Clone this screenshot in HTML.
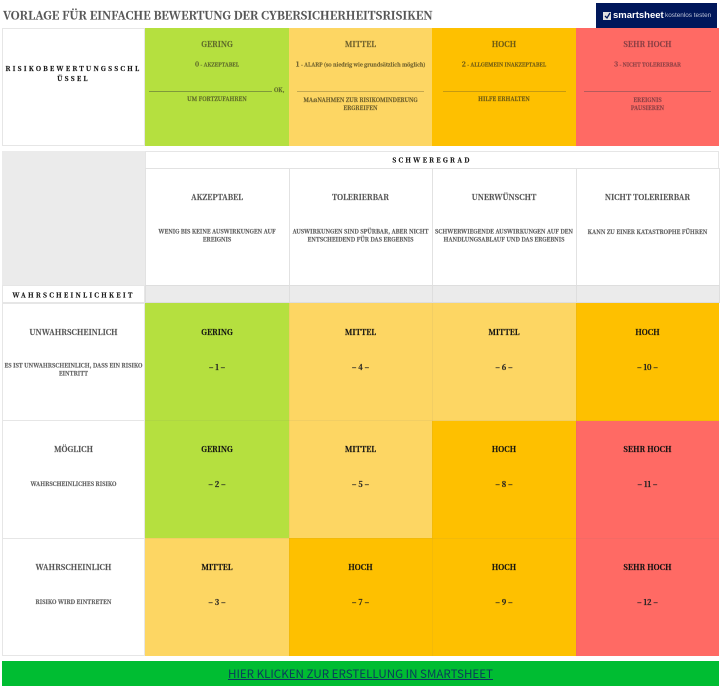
<!DOCTYPE html>
<html lang="de">
<head>
<meta charset="utf-8">
<title>Vorlage für einfache Bewertung der Cybersicherheitsrisiken</title>
<style>
html,body{margin:0;padding:0;background:#fff;}
body{position:relative;width:723px;height:688px;overflow:hidden;font-family:"Noto Serif CJK SC","Liberation Serif",serif;}
.b{position:absolute;box-sizing:border-box;}
.t{position:absolute;text-align:center;white-space:nowrap;transform:translateY(-50%);line-height:1;filter:blur(.25px);-webkit-text-stroke:.2px currentColor;}
.g{background:#b5e03f}.m{background:#fdd663}.h{background:#fec000}.s{background:#ff6a64}.w{background:#fff}.e{background:#ebebeb}
.line{position:absolute;height:1px;}
.hd{font-size:7.6px;font-weight:bold;color:#555;}
.sm{font-size:5.65px;font-weight:bold;color:#5c5c5c;}
.ks{font-size:5.6px;font-weight:bold;}
.kr{font-size:5.2px;font-weight:bold;}
.kr span{font-size:7px;}
.cell{font-size:7.6px;font-weight:bold;color:#111;}
.num{font-size:7.6px;font-weight:bold;color:#222;}
.sp{font-size:6.6px;font-weight:bold;color:#111;letter-spacing:2.2px;}
.o1{color:#5e6a2a}.o2{color:#6d5f2c}.o3{color:#6d5a14}.o4{color:#8a3f44}
</style>
</head>
<body>

<div class="t" style="left:3px;top:15.5px;font-size:11.3px;font-weight:bold;color:#555;text-align:left;">VORLAGE FÜR EINFACHE BEWERTUNG DER CYBERSICHERHEITSRISIKEN</div>

<div class="b" style="left:596px;top:3px;width:121px;height:25px;background:#00175a;">
  <svg width="8" height="8" style="position:absolute;left:7px;top:9px"><rect width="8" height="8" fill="#e0e0e0"/><path d="M2 4l2 2 3-5" fill="none" stroke="#00175a" stroke-width="1.3"/></svg>
  <span style="position:absolute;left:17px;top:5px;color:#fff;font:bold 9.5px 'Liberation Sans',sans-serif;line-height:16px;filter:blur(.25px);">smartsheet</span>
  <span style="position:absolute;left:69px;top:7px;color:#bcc4d8;font:6.4px 'Liberation Sans',sans-serif;line-height:12px;white-space:nowrap;">kostenlos testen</span>
</div>

<!-- Key table -->
<div class="b w" style="left:2px;top:28px;width:143px;height:118px;border:1px solid #e6e6e6;"></div>
<div class="t sp" style="left:2px;width:143px;top:73px;line-height:10px;">RISIKOBEWERTUNGSSCHL<br>ÜSSEL</div>

<div class="b g" style="left:145px;top:28px;width:144px;height:118px;"></div>
<div class="b m" style="left:289px;top:28px;width:143px;height:118px;"></div>
<div class="b h" style="left:432px;top:28px;width:144px;height:118px;"></div>
<div class="b s" style="left:576px;top:28px;width:143px;height:118px;"></div>

<div class="t hd o1" style="left:145px;width:144px;top:44.5px;">GERING</div>
<div class="t kr o1" style="left:145px;width:144px;top:64.5px;"><span>0</span> - AKZEPTABEL</div>
<div class="line" style="left:149px;top:91px;width:123px;background:#7f9a3a;"></div>
<div class="t ks o1" style="left:274px;top:91px;">OK,</div>
<div class="t ks o1" style="left:145px;width:144px;top:99.5px;">UM FORTZUFAHREN</div>

<div class="t hd o2" style="left:289px;width:143px;top:44.5px;">MITTEL</div>
<div class="t kr o2" style="left:289px;width:143px;top:64.5px;"><span>1</span> - ALARP (so niedrig wie grundsätzlich möglich)</div>
<div class="line" style="left:297px;top:91px;width:127px;background:#c4a850;"></div>
<div class="t ks o2" style="left:289px;width:143px;top:103.5px;line-height:8px;">MAẞNAHMEN ZUR RISIKOMINDERUNG<br>ERGREIFEN</div>

<div class="t hd o3" style="left:432px;width:144px;top:44.5px;">HOCH</div>
<div class="t kr o3" style="left:432px;width:144px;top:64.5px;"><span>2</span> - ALLGEMEIN INAKZEPTABEL</div>
<div class="line" style="left:443px;top:91px;width:123px;background:#c69a10;"></div>
<div class="t ks o3" style="left:432px;width:144px;top:99.5px;">HILFE ERHALTEN</div>

<div class="t hd o4" style="left:576px;width:143px;top:44.5px;">SEHR HOCH</div>
<div class="t kr o4" style="left:576px;width:143px;top:64.5px;"><span>3</span> - NICHT TOLERIERBAR</div>
<div class="line" style="left:584px;top:91px;width:127px;background:#b65a5c;"></div>
<div class="t ks o4" style="left:576px;width:143px;top:103.5px;line-height:8px;">EREIGNIS<br>PAUSIEREN</div>

<!-- Matrix header -->
<div class="b e" style="left:2px;top:151px;width:143px;height:135px;"></div>
<div class="b w" style="left:145px;top:151px;width:574px;height:18px;border:1px solid #e6e6e6;"></div>
<div class="t sp" style="left:145px;width:574px;top:160px;">SCHWEREGRAD</div>

<div class="b w" style="left:145px;top:168px;width:145px;height:118px;border:1px solid #e2e2e2;"></div>
<div class="b w" style="left:289px;top:168px;width:144px;height:118px;border:1px solid #e2e2e2;"></div>
<div class="b w" style="left:432px;top:168px;width:145px;height:118px;border:1px solid #e2e2e2;"></div>
<div class="b w" style="left:576px;top:168px;width:144px;height:118px;border:1px solid #e2e2e2;"></div>

<div class="t hd" style="left:145px;width:144px;top:197.5px;">AKZEPTABEL</div>
<div class="t sm" style="left:145px;width:144px;top:235.5px;line-height:8.4px;">WENIG BIS KEINE AUSWIRKUNGEN AUF<br>EREIGNIS</div>
<div class="t hd" style="left:289px;width:143px;top:197.5px;">TOLERIERBAR</div>
<div class="t sm" style="left:289px;width:143px;top:235.5px;line-height:8.4px;">AUSWIRKUNGEN SIND SPÜRBAR, ABER NICHT<br>ENTSCHEIDEND FÜR DAS ERGEBNIS</div>
<div class="t hd" style="left:432px;width:144px;top:197.5px;">UNERWÜNSCHT</div>
<div class="t sm" style="left:432px;width:144px;top:235.5px;line-height:8.4px;">SCHWERWIEGENDE AUSWIRKUNGEN AUF DEN<br>HANDLUNGSABLAUF UND DAS ERGEBNIS</div>
<div class="t hd" style="left:576px;width:143px;top:197.5px;">NICHT TOLERIERBAR</div>
<div class="t sm" style="left:576px;width:143px;top:231.5px;">KANN ZU EINER KATASTROPHE FÜHREN</div>

<div class="b w" style="left:2px;top:285px;width:143px;height:18px;border:1px solid #e6e6e6;"></div>
<div class="t sp" style="left:2px;width:143px;top:294.5px;">WAHRSCHEINLICHKEIT</div>
<div class="b e" style="left:145px;top:285px;width:145px;height:18px;border:1px solid #dedede;"></div>
<div class="b e" style="left:289px;top:285px;width:144px;height:18px;border:1px solid #dedede;"></div>
<div class="b e" style="left:432px;top:285px;width:145px;height:18px;border:1px solid #dedede;"></div>
<div class="b e" style="left:576px;top:285px;width:144px;height:18px;border:1px solid #dedede;"></div>

<!-- Row labels -->
<div class="b w" style="left:2px;top:303px;width:143px;height:118px;border:1px solid #e6e6e6;"></div>
<div class="t hd" style="left:2px;width:143px;top:332.5px;">UNWAHRSCHEINLICH</div>
<div class="t sm" style="left:2px;width:143px;top:370px;line-height:8.4px;">ES IST UNWAHRSCHEINLICH, DASS EIN RISIKO<br>EINTRITT</div>

<div class="b w" style="left:2px;top:420px;width:143px;height:119px;border:1px solid #e6e6e6;"></div>
<div class="t hd" style="left:2px;width:143px;top:450px;">MÖGLICH</div>
<div class="t sm" style="left:2px;width:143px;top:484px;">WAHRSCHEINLICHES RISIKO</div>

<div class="b w" style="left:2px;top:538px;width:143px;height:118px;border:1px solid #e6e6e6;"></div>
<div class="t hd" style="left:2px;width:143px;top:567.5px;">WAHRSCHEINLICH</div>
<div class="t sm" style="left:2px;width:143px;top:601.5px;">RISIKO WIRD EINTRETEN</div>

<!-- Matrix cells row 1 -->
<div class="b g" style="left:145px;top:303px;width:144px;height:118px;"></div>
<div class="b m" style="left:289px;top:303px;width:143px;height:118px;"></div>
<div class="b m" style="left:432px;top:303px;width:144px;height:118px;"></div>
<div class="b h" style="left:576px;top:303px;width:143px;height:118px;"></div>
<!-- row 2 -->
<div class="b g" style="left:145px;top:421px;width:144px;height:117px;"></div>
<div class="b m" style="left:289px;top:421px;width:143px;height:117px;"></div>
<div class="b h" style="left:432px;top:421px;width:144px;height:117px;"></div>
<div class="b s" style="left:576px;top:421px;width:143px;height:117px;"></div>
<!-- row 3 -->
<div class="b m" style="left:145px;top:538px;width:144px;height:118px;"></div>
<div class="b h" style="left:289px;top:538px;width:143px;height:118px;"></div>
<div class="b h" style="left:432px;top:538px;width:144px;height:118px;"></div>
<div class="b s" style="left:576px;top:538px;width:143px;height:118px;"></div>

<div class="line" style="left:289px;top:303px;width:1px;height:353px;background:rgba(120,120,120,.08);"></div>
<div class="line" style="left:432px;top:303px;width:1px;height:353px;background:rgba(120,120,120,.08);"></div>
<div class="line" style="left:576px;top:303px;width:1px;height:353px;background:rgba(120,120,120,.08);"></div>
<div class="line" style="left:145px;top:420px;width:574px;background:rgba(120,120,120,.08);"></div>
<div class="line" style="left:145px;top:538px;width:574px;background:rgba(120,120,120,.08);"></div>

<div class="t cell" style="left:145px;width:144px;top:332.5px;">GERING</div>
<div class="t num" style="left:145px;width:144px;top:367.5px;">– 1 –</div>
<div class="t cell" style="left:289px;width:143px;top:332.5px;">MITTEL</div>
<div class="t num" style="left:289px;width:143px;top:367.5px;">– 4 –</div>
<div class="t cell" style="left:432px;width:144px;top:332.5px;">MITTEL</div>
<div class="t num" style="left:432px;width:144px;top:367.5px;">– 6 –</div>
<div class="t cell" style="left:576px;width:143px;top:332.5px;">HOCH</div>
<div class="t num" style="left:576px;width:143px;top:367.5px;">– 10 –</div>

<div class="t cell" style="left:145px;width:144px;top:450px;">GERING</div>
<div class="t num" style="left:145px;width:144px;top:485px;">– 2 –</div>
<div class="t cell" style="left:289px;width:143px;top:450px;">MITTEL</div>
<div class="t num" style="left:289px;width:143px;top:485px;">– 5 –</div>
<div class="t cell" style="left:432px;width:144px;top:450px;">HOCH</div>
<div class="t num" style="left:432px;width:144px;top:485px;">– 8 –</div>
<div class="t cell" style="left:576px;width:143px;top:450px;">SEHR HOCH</div>
<div class="t num" style="left:576px;width:143px;top:485px;">– 11 –</div>

<div class="t cell" style="left:145px;width:144px;top:567.5px;">MITTEL</div>
<div class="t num" style="left:145px;width:144px;top:602.5px;">– 3 –</div>
<div class="t cell" style="left:289px;width:143px;top:567.5px;">HOCH</div>
<div class="t num" style="left:289px;width:143px;top:602.5px;">– 7 –</div>
<div class="t cell" style="left:432px;width:144px;top:567.5px;">HOCH</div>
<div class="t num" style="left:432px;width:144px;top:602.5px;">– 9 –</div>
<div class="t cell" style="left:576px;width:143px;top:567.5px;">SEHR HOCH</div>
<div class="t num" style="left:576px;width:143px;top:602.5px;">– 12 –</div>

<!-- CTA -->
<div class="b" style="left:2px;top:661px;width:717px;height:25px;background:#00bd32;"></div>
<div class="t" style="left:2px;width:717px;top:674px;font-family:'Noto Sans CJK SC','Liberation Sans',sans-serif;font-size:11.6px;color:#0a3a5c;text-decoration:underline;line-height:16px;-webkit-text-stroke:0;">HIER KLICKEN ZUR ERSTELLUNG IN SMARTSHEET</div>

</body>
</html>
